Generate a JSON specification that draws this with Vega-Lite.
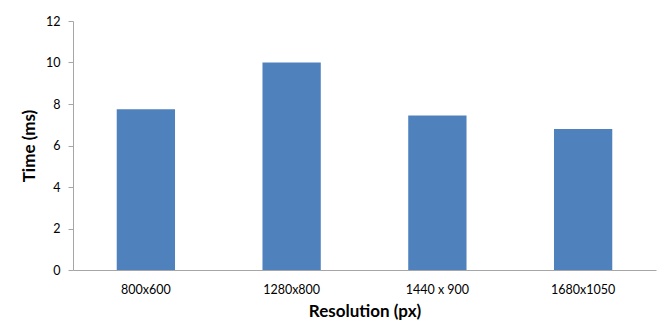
{
  "$schema": "https://vega.github.io/schema/vega-lite/v6.json",
  "autosize": "none",
  "width": 583,
  "height": 249,
  "padding": {"left": 73, "top": 21, "right": 6, "bottom": 63},
  "background": "white",
  "data": {
    "values": [
      {"resolution": "800x600", "time": 7.75},
      {"resolution": "1280x800", "time": 10.0},
      {"resolution": "1440 x 900", "time": 7.45},
      {"resolution": "1680x1050", "time": 6.8}
    ]
  },
  "mark": {"type": "bar", "color": "#4F81BD"},
  "encoding": {
    "x": {
      "field": "resolution",
      "type": "nominal",
      "sort": null,
      "scale": {"paddingInner": 0.6, "paddingOuter": 0.3},
      "axis": {
        "title": "Resolution (px)",
        "labelAngle": 0,
        "ticks": false,
        "labelPadding": 13,
        "titlePadding": 8,
        "domainColor": "#A6A6A6"
      }
    },
    "y": {
      "field": "time",
      "type": "quantitative",
      "scale": {"domain": [0, 12], "nice": false},
      "axis": {
        "title": "Time (ms)",
        "values": [0, 2, 4, 6, 8, 10, 12],
        "grid": false,
        "tickSize": 5,
        "tickColor": "#A6A6A6",
        "domainColor": "#A6A6A6",
        "labelPadding": 8,
        "titlePadding": 7
      }
    }
  },
  "config": {
    "view": {"stroke": null},
    "font": "Lato",
    "axis": {
      "labelFont": "Lato",
      "labelFontSize": 12.5,
      "labelColor": "#000000",
      "titleFont": "Lato",
      "titleFontSize": 17,
      "titleFontWeight": "bold",
      "titleColor": "#000000"
    }
  }
}
